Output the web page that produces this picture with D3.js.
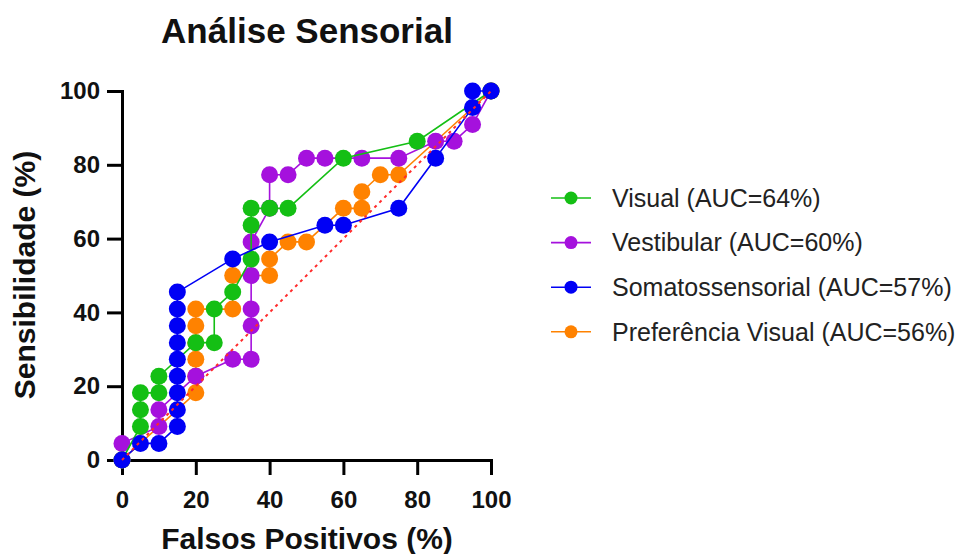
<!DOCTYPE html>
<html>
<head>
<meta charset="utf-8">
<script src="https://cdn.jsdelivr.net/npm/d3@7"></script>
<style>
  html, body { margin: 0; padding: 0; background: #fff; }
  svg { display: block; font-family: "Liberation Sans", Arial, sans-serif; }
</style>
</head>
<body>
<svg id="chart" width="967" height="554"></svg>
<script>
// ---- data (percent) ----
const seriesNames = ["Visual (AUC=64%)", "Vestibular (AUC=60%)", "Somatossensorial (AUC=57%)", "Preferência Visual (AUC=56%)"];
const seriesColors = ["#14bf14", "#a511dd", "#0000f5", "#ff8200"];

const visualFP   = [0, 5, 5, 5, 10, 10, 20, 25, 25, 30, 35, 35, 35, 40, 45, 60, 80, 100];
const visualSens = [0, 9.1, 13.6, 18.2, 18.2, 22.7, 31.8, 31.8, 40.9, 45.5, 54.5, 63.6, 68.2, 68.2, 68.2, 81.8, 86.4, 100];

const vestFP   = [0, 0, 10, 10, 20, 30, 35, 35, 35, 35, 35, 40, 40, 45, 50, 55, 65, 75, 85, 90, 95, 100];
const vestSens = [0, 4.5, 9.1, 13.6, 22.7, 27.3, 27.3, 36.4, 40.9, 50.0, 59.1, 68.2, 77.3, 77.3, 81.8, 81.8, 81.8, 81.8, 86.4, 86.4, 90.9, 100];

const somaFP   = [0, 5, 10, 15, 15, 15, 15, 15, 15, 15, 15, 15, 30, 40, 55, 60, 75, 85, 95, 95, 100];
const somaSens = [0, 4.5, 4.5, 9.1, 13.6, 18.2, 22.7, 27.3, 31.8, 36.4, 40.9, 45.5, 54.5, 59.1, 63.6, 63.6, 68.2, 81.8, 95.5, 100, 100];

const prefFP   = [0, 20, 20, 20, 20, 20, 20, 30, 30, 40, 40, 45, 50, 60, 65, 65, 70, 75, 100];
const prefSens = [0, 18.2, 22.7, 27.3, 31.8, 36.4, 40.9, 40.9, 50.0, 50.0, 54.5, 59.1, 59.1, 68.2, 68.2, 72.7, 77.3, 77.3, 100];

const referenceFP   = [0, 100];
const referenceSens = [0, 100];

const tickValues = [0, 20, 40, 60, 80, 100];
const titleText = "Análise Sensorial";
const xLabel = "Falsos Positivos (%)";
const yLabel = "Sensibilidade (%)";

// ---- layout ----
const svg = d3.select("#chart");
const x = d3.scaleLinear().domain([0, 100]).range([122, 491]);
const y = d3.scaleLinear().domain([0, 100]).range([460, 91]);

const series = [
  { fp: visualFP, sens: visualSens, color: seriesColors[0], name: seriesNames[0] },
  { fp: vestFP,   sens: vestSens,   color: seriesColors[1], name: seriesNames[1] },
  { fp: somaFP,   sens: somaSens,   color: seriesColors[2], name: seriesNames[2] },
  { fp: prefFP,   sens: prefSens,   color: seriesColors[3], name: seriesNames[3] }
].map(s => ({ ...s, pts: s.fp.map((v, i) => [v, s.sens[i]]) }));

// Title
svg.append("text")
  .attr("x", 307).attr("y", 43)
  .attr("text-anchor", "middle")
  .attr("font-size", 35).attr("font-weight", "bold")
  .attr("fill", "#111")
  .text(titleText);

// Axes
const xAxis = d3.axisBottom(x).tickValues(tickValues).tickSize(15).tickSizeOuter(0).tickPadding(16);
const yAxis = d3.axisLeft(y).tickValues(tickValues).tickSize(15).tickSizeOuter(0).tickPadding(7);

const gx = svg.append("g").attr("transform", "translate(0,460)").call(xAxis);
const gy = svg.append("g").attr("transform", "translate(122,0)").call(yAxis);

[gx, gy].forEach(g => {
  g.select(".domain").attr("stroke", "#000").attr("stroke-width", 3).attr("stroke-linecap", "square");
  g.selectAll(".tick line").attr("stroke", "#000").attr("stroke-width", 3);
  g.selectAll(".tick text")
    .attr("font-size", 24).attr("font-weight", "bold")
    .attr("font-family", "'Liberation Sans', Arial, sans-serif")
    .attr("fill", "#111");
});

// Axis labels
svg.append("text")
  .attr("x", 307).attr("y", 549)
  .attr("text-anchor", "middle")
  .attr("font-size", 30).attr("font-weight", "bold")
  .attr("fill", "#111")
  .text(xLabel);

svg.append("text")
  .attr("transform", "translate(35,275) rotate(-90)")
  .attr("text-anchor", "middle")
  .attr("font-size", 30).attr("font-weight", "bold")
  .attr("fill", "#111")
  .text(yLabel);

// Series (draw order: orange, purple, green, blue)
const line = d3.line().x(d => x(d[0])).y(d => y(d[1]));
const drawOrder = [3, 1, 0, 2];
const plot = svg.append("g");
drawOrder.forEach(i => {
  const s = series[i];
  const g = plot.append("g");
  g.append("path")
    .attr("d", line(s.pts))
    .attr("fill", "none")
    .attr("stroke", s.color)
    .attr("stroke-width", 1.6);
  g.selectAll("circle").data(s.pts).join("circle")
    .attr("cx", d => x(d[0]))
    .attr("cy", d => y(d[1]))
    .attr("r", 8.5)
    .attr("fill", s.color);
});

// Reference diagonal
svg.append("path")
  .attr("d", line(referenceFP.map((v, i) => [v, referenceSens[i]])))
  .attr("fill", "none")
  .attr("stroke", "#ff2a2a")
  .attr("stroke-width", 2)
  .attr("stroke-dasharray", "3,4");

// Legend
const legend = svg.append("g");
series.forEach((s, i) => {
  const cy = 198 + i * 44.6;
  legend.append("line")
    .attr("x1", 551).attr("x2", 591).attr("y1", cy).attr("y2", cy)
    .attr("stroke", s.color).attr("stroke-width", 1.6);
  legend.append("circle")
    .attr("cx", 571).attr("cy", cy).attr("r", 6.5).attr("fill", s.color);
  legend.append("text")
    .attr("x", 612).attr("y", cy)
    .attr("dy", "0.35em")
    .attr("font-size", 25)
    .attr("fill", "#222")
    .text(s.name);
});
</script>
</body>
</html>
